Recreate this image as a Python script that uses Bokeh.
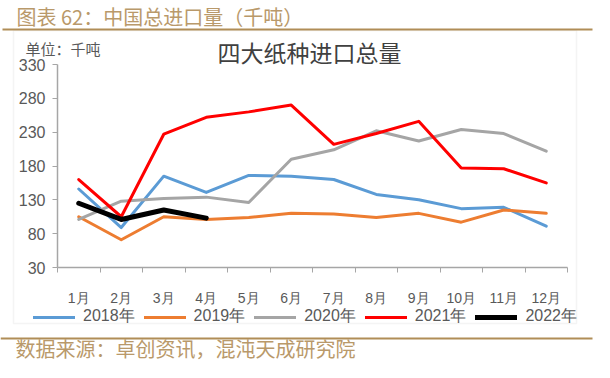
from bokeh.plotting import figure
from bokeh.models import (Range1d, FixedTicker, Label, BoxAnnotation, Legend, LegendItem,
                          LinearAxis)
from bokeh.embed import file_html
from bokeh.resources import INLINE

# ---------------- data ----------------
months = ["1月", "2月", "3月", "4月", "5月", "6月", "7月", "8月", "9月", "10月", "11月", "12月"]
y2018 = [146, 89, 165, 141, 166, 165, 160, 138, 130, 117, 119, 91]
y2019 = [105, 71, 105, 101, 104, 110, 109, 104, 110, 97, 115, 110]
y2020 = [101, 128, 132, 134, 126, 190, 204, 232, 217, 234, 228, 202]
y2021 = [160, 105, 227, 252, 260, 270, 212, 228, 246, 177, 176, 155]
y2022 = [125, 101, 115, 103]
series_names = ["2018年", "2019年", "2020年", "2021年", "2022年"]
y_ticks = [30, 80, 130, 180, 230, 280, 330]

title_text = "图表 62：中国总进口量（千吨）"
chart_title = "四大纸种进口总量"
unit_text = "单位：千吨"
source_text = "数据来源：卓创资讯，混沌天成研究院"

TAN_LINE = "#B08D57"
TAN_TEXT = "#B9996A"
GRAY_TXT = "#595959"
AXIS_CLR = "#A6A6A6"

# ---------------- layout (pixels) ----------------
W, H = 594, 362
PX_L, PX_R = 57, 567       # plot area left/right (canvas px)
PX_T, PX_B = 64, 267       # plot area top/bottom (canvas px, from top)
XMIN, XMAX = 0.5, 12.5
YMIN, YMAX = 30, 330
sx = (PX_R - PX_L) / (XMAX - XMIN)
sy = (PX_B - PX_T) / (YMAX - YMIN)
x_range = Range1d(XMIN - PX_L / sx, XMAX + (W - PX_R) / sx)
y_range = Range1d(YMIN - (H - PX_B) / sy, YMAX + PX_T / sy)

p = figure(width=W, height=H, output_backend="svg", toolbar_location=None,
           x_range=x_range, y_range=y_range,
           x_axis_location=None, y_axis_location=None,
           min_border=0, min_border_left=0, min_border_right=0,
           min_border_top=0, min_border_bottom=0)
p.outline_line_color = None
p.grid.visible = False
p.background_fill_color = "white"
p.border_fill_color = "white"

x_idx = list(range(1, len(months) + 1))

# y axis
ya = LinearAxis(fixed_location=XMIN, bounds=(YMIN, YMAX))
ya.ticker = FixedTicker(ticks=y_ticks)
ya.axis_line_color = AXIS_CLR
ya.axis_line_width = 1.5
ya.major_tick_line_color = AXIS_CLR
ya.major_tick_out = 5
ya.major_tick_in = 0
ya.minor_tick_line_color = None
ya.major_label_text_font_size = "16px"
ya.major_label_text_color = GRAY_TXT
ya.major_label_text_font = "Liberation Sans"
ya.major_label_standoff = 7
p.add_layout(ya, "left")

# x axis
xa = LinearAxis(fixed_location=YMIN, bounds=(XMIN, XMAX))
xa.ticker = FixedTicker(ticks=x_idx, minor_ticks=[i + 0.5 for i in range(0, 13)])
xa.major_label_overrides = {i: m for i, m in zip(x_idx, months)}
xa.axis_line_color = AXIS_CLR
xa.axis_line_width = 1.5
xa.major_tick_line_color = None
xa.major_tick_out = 0
xa.major_tick_in = 0
xa.minor_tick_line_color = AXIS_CLR
xa.minor_tick_out = 5
xa.minor_tick_in = 0
xa.major_label_text_font_size = "14px"
xa.major_label_text_color = GRAY_TXT
xa.major_label_text_font = "Liberation Sans"
xa.major_label_standoff = 17
p.add_layout(xa, "below")

# chart box and decorative rules (screen units, canvas from bottom-left)
def sbox(**kw):
    return BoxAnnotation(left_units="screen", right_units="screen",
                         top_units="screen", bottom_units="screen", **kw)

p.add_layout(sbox(left=13, right=576, top=332, bottom=39,
                  fill_alpha=0, line_color="#D9D9D9", line_width=1.5))
p.add_layout(sbox(left=2, right=592, top=334, bottom=332,
                  fill_color=TAN_LINE, fill_alpha=1, line_alpha=0))
p.add_layout(sbox(left=0, right=592, top=25, bottom=23,
                  fill_color=TAN_LINE, fill_alpha=1, line_alpha=0))

# lines
colors = ["#5B9BD5", "#ED7D31", "#A5A5A5", "#FF0000", "#000000"]
widths = [3, 3, 3, 3, 5]
data = [y2018, y2019, y2020, y2021, y2022]
items = []
for name, ys, c, w in zip(series_names, data, colors, widths):
    r = p.line(x_idx[:len(ys)], ys, line_color=c, line_width=w, line_join="round", line_cap="round")
    items.append(LegendItem(label=name, renderers=[r]))

legend = Legend(items=items, orientation="horizontal", location=(33, 35),
                glyph_width=42, glyph_height=16, label_standoff=8, spacing=9,
                padding=0, margin=0, border_line_color=None, background_fill_alpha=0,
                label_text_font_size="16px", label_text_color=GRAY_TXT,
                label_text_font="Liberation Sans")
p.add_layout(legend, "center")

# texts
p.add_layout(Label(x=16, y=346, x_units="screen", y_units="screen", text=title_text,
                   text_font="Noto Sans CJK SC", text_font_size="20px", text_color=TAN_TEXT,
                   text_baseline="middle", text_align="left"))
p.add_layout(Label(x=309, y=311, x_units="screen", y_units="screen", text=chart_title,
                   text_font="Noto Sans CJK SC", text_font_size="23px", text_color="#404040",
                   text_baseline="middle", text_align="center"))
p.add_layout(Label(x=25, y=314, x_units="screen", y_units="screen", text=unit_text,
                   text_font="Noto Sans CJK SC", text_font_size="15px", text_color=GRAY_TXT,
                   text_baseline="middle", text_align="left"))
p.add_layout(Label(x=15, y=0, x_units="screen", y_units="screen", text=source_text,
                   text_font="Noto Sans CJK SC", text_font_size="20px", text_color=TAN_TEXT,
                   text_baseline="bottom", text_align="left"))

open("out.html", "w").write(file_html(p, INLINE))
